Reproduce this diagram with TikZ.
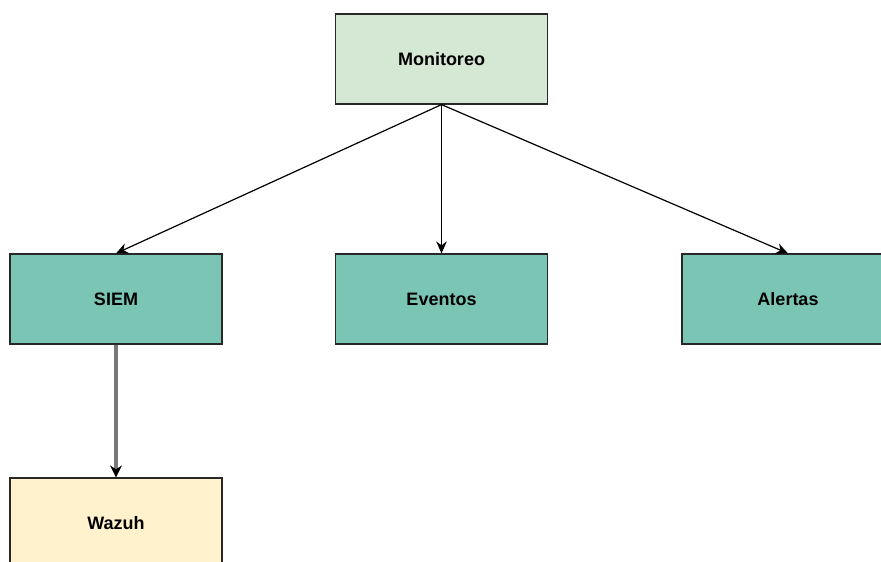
\documentclass[tikz,border=0pt]{standalone}
\usepackage{fontspec}
\setmainfont{Liberation Sans}
\usepackage{xcolor}
\usetikzlibrary{arrows.meta,positioning}
\definecolor{mogreen}{RGB}{213,232,212}
\definecolor{moteal}{RGB}{122,197,180}
\definecolor{moyellow}{RGB}{255,242,204}
\definecolor{moedge}{RGB}{40,40,40}
\definecolor{mogrey}{RGB}{120,120,120}

\begin{document}
\begin{tikzpicture}[x=0.75pt,y=-0.75pt,
    box/.style={draw=moedge,line width=0.9pt,minimum width=159pt,
        minimum height=67.5pt,inner sep=0pt,font=\fontsize{13.5}{15}\selectfont\bfseries},
    link/.style={-{Stealth[length=9pt,width=8pt]},line width=0.9pt,black}]

\useasboundingbox (0,0) rectangle (881,561);

\node[box,fill=mogreen] (monitoreo) at (441.5,59) {Monitoreo};

\node[box,fill=moteal] (siem) at (116,299) {SIEM};
\node[box,fill=moteal] (eventos) at (441.5,299) {Eventos};
\node[box,fill=moteal] (alertas) at (788,299) {Alertas};

\node[box,fill=moyellow] (wazuh) at (116,523) {Wazuh};

\draw[link] (monitoreo.south) -- (siem.north);
\draw[link] (monitoreo.south) -- (eventos.north);
\draw[link] (monitoreo.south) -- (alertas.north);

\draw[draw=mogrey,line width=2.4pt,-{Stealth[length=9pt,width=9pt,color=black,line width=0.5pt]}]
(siem.south) -- (wazuh.north);

\end{tikzpicture}
\end{document}
